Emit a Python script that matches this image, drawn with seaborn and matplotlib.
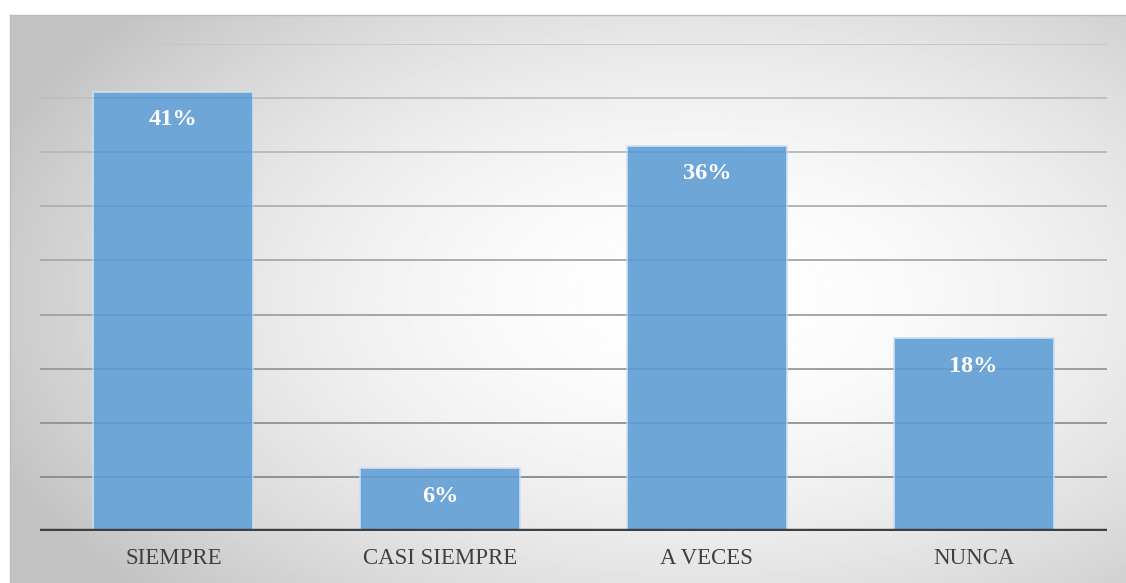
import numpy as np
import pandas as pd
import matplotlib
matplotlib.use("Agg")
import matplotlib.pyplot as plt
import seaborn as sns

categories = ["SIEMPRE", "CASI SIEMPRE", "A VECES", "NUNCA"]
values = [0.406, 0.058, 0.356, 0.178]
labels = ["41%", "6%", "36%", "18%"]
yticks = [0.05, 0.10, 0.15, 0.20, 0.25, 0.30, 0.35, 0.40, 0.45]

sns.set_theme(style="white")
plt.rcParams["font.family"] = ["Liberation Serif", "DejaVu Serif"]

W, H = 1126, 583
fig = plt.figure(figsize=(W / 100, H / 100), dpi=100)
fig.patch.set_facecolor("white")

# gradient background panel
bg = fig.add_axes([10 / W, 0, (W - 10) / W, (H - 15) / H])
ny, nx = 300, 600
yy, xx = np.mgrid[0:1:ny * 1j, 0:1:nx * 1j]
cx, cy = 0.62, 0.50
r = np.sqrt(((xx - cx) / 0.62) ** 2 + ((yy - cy) / 0.70) ** 2)
v = 1.0 - 0.20 * np.clip(r, 0, 1.3) ** 1.8
v = np.clip(v, 0.76, 1.0)
bg.imshow(v, cmap="gray", vmin=0, vmax=1, aspect="auto", extent=[0, 1, 0, 1], origin="lower")
bg.set_xlim(0, 1)
bg.set_ylim(0, 1)
bg.set_xticks([])
bg.set_yticks([])
for s in ["right", "bottom"]:
    bg.spines[s].set_visible(False)
for s in ["top", "left"]:
    bg.spines[s].set_color("#bdbdbd")
    bg.spines[s].set_linewidth(1.0)

ax = fig.add_axes([40 / W, (H - 531) / H, 1067 / W, (531 - 44) / H])
ax.set_facecolor("none")
df = pd.DataFrame({"cat": categories, "val": values})
sns.barplot(data=df, x="cat", y="val", color="#6FA6D8", width=0.6,
            edgecolor="#cfe0f2", linewidth=1.2, ax=ax, zorder=3, saturation=1)

ax.set_xlim(-0.5, 3.5)
ax.set_ylim(0, 0.45)
grid_cols = np.linspace(0.58, 0.85, len(yticks))
for yt, c in zip(yticks, grid_cols):
    ax.axhline(yt, color=str(c), linewidth=1.3, zorder=1)
    ax.axhline(yt, color="#1f4e79", alpha=0.12, linewidth=1.3, zorder=3.5)
ax.axhline(0, color="#3f3f3f", linewidth=3.2, zorder=4)

for i, (vv, lab) in enumerate(zip(values, labels)):
    ax.text(i, vv - 0.026, lab, ha="center", va="center", color="white",
            fontsize=17.5, fontweight="bold", zorder=5)

ax.set_yticks([])
ax.set_xlabel("")
ax.set_ylabel("")
ax.tick_params(axis="x", length=0, pad=12, labelsize=16.5, labelcolor="#404040")
for s in ax.spines.values():
    s.set_visible(False)

fig.savefig("out.png", dpi=100)
